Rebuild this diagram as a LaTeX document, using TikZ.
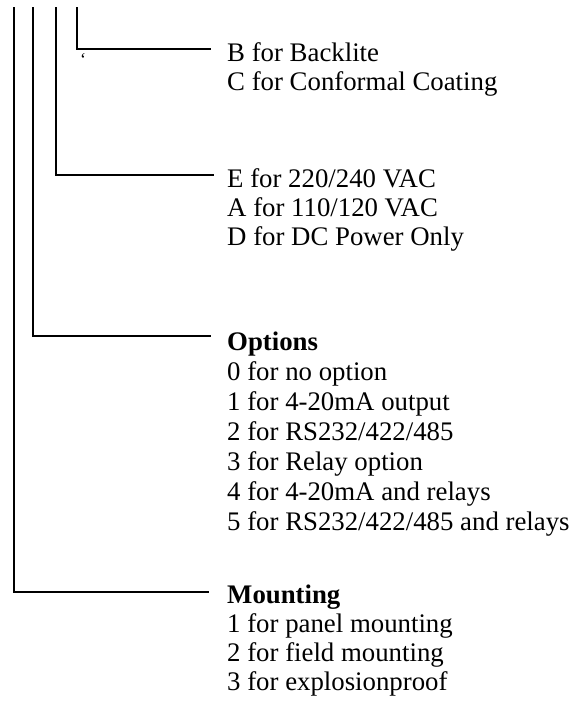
\documentclass[tikz,border=0pt]{standalone}
\usepackage{fontspec}
\setmainfont{Liberation Serif}
\begin{document}
\begin{tikzpicture}[x=1pt,y=-1pt,
  lead/.style={line width=2.6pt,line cap=rect},
  entry/.style={anchor=base west,inner sep=0pt,font=\fontsize{26.8}{29}\selectfont},
  head/.style={entry,font=\fontsize{26.8}{29}\selectfont\bfseries}]
\useasboundingbox (0,0) rectangle (576,708);
% coordinates of leads
\coordinate (t1) at (14,8);
\coordinate (t2) at (33,8);
\coordinate (t3) at (56,8);
\coordinate (t4) at (77,8);
\coordinate (e1) at (208,592);
\coordinate (e2) at (210,336);
\coordinate (e3) at (213,175);
\coordinate (e4) at (210,49);
\draw[lead] (t1) |- (e1);
\draw[lead] (t2) |- (e2);
\draw[lead] (t3) |- (e3);
\draw[lead] (t4) |- (e4);
\node[anchor=center,inner sep=0pt,font=\fontsize{18}{18}\selectfont] (tick) at (83,60) {\symbol{96}};
% group 4
\node[entry] (b) at (227,62) {B for Backlite};
\node[entry] (c) at (227,91) {C for Conformal Coating};
% group 3
\node[entry] (pe) at (227,188) {E for 220/240 VAC};
\node[entry] (pa) at (227,217) {A for 110/120 VAC};
\node[entry] (pd) at (227,246) {D for DC Power Only};
% group 2
\node[head] (opt) at (227,350) {Options};
\node[entry] (o0) at (227,380) {0 for no option};
\node[entry] (o1) at (227,410) {1 for 4-20mA output};
\node[entry] (o2) at (227,440) {2 for RS232/422/485};
\node[entry] (o3) at (227,470) {3 for Relay option};
\node[entry] (o4) at (227,500) {4 for 4-20mA and relays};
\node[entry] (o5) at (227,530) {5 for RS232/422/485 and relays};
% group 1
\node[head] (mnt) at (227,603) {Mounting};
\node[entry] (m1) at (227,632) {1 for panel mounting};
\node[entry] (m2) at (227,661) {2 for field mounting};
\node[entry] (m3) at (227,690) {3 for explosionproof};
\end{tikzpicture}
\end{document}
